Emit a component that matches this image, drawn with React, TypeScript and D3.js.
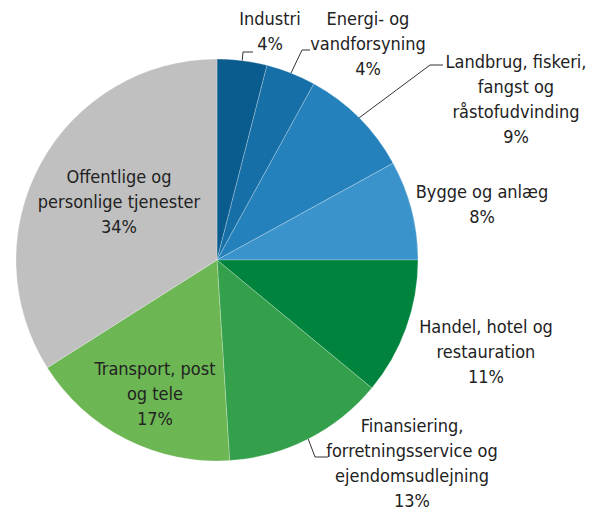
import React from 'react';
import {arc, pie} from 'd3';

const width = 592;
const height = 510;

// sektorer, med uret fra kl. 12
const sectors = [
  'Industri',
  'Energi- og vandforsyning',
  'Landbrug, fiskeri, fangst og råstofudvinding',
  'Bygge og anlæg',
  'Handel, hotel og restauration',
  'Finansiering, forretningsservice og ejendomsudlejning',
  'Transport, post og tele',
  'Offentlige og personlige tjenester',
];
const shares = [4, 4, 9, 8, 11, 13, 17, 34];
const labelLines = [
  ['Industri'],
  ['Energi- og', 'vandforsyning'],
  ['Landbrug, fiskeri,', 'fangst og', 'råstofudvinding'],
  ['Bygge og anlæg'],
  ['Handel, hotel og', 'restauration'],
  ['Finansiering,', 'forretningsservice og', 'ejendomsudlejning'],
  ['Transport, post', 'og tele'],
  ['Offentlige og', 'personlige tjenester'],
];
const colors = ['#0b5c8e', '#1670a7', '#2581bb', '#3a93cb', '#00843d', '#35a04b', '#6cb653', '#c0c0c0'];

// tekstplacering (x = midte, y = første grundlinje)
const labelPos = [
  [270, 25], [368, 25], [516, 68], [482, 198],
  [486, 333], [412, 432], [155, 375], [119, 183],
];
// knæk for ledelinjer (kun for de sektorer der har en)
const leaders: Record<number, number[][]> = {
  0: [[243, 52], [253, 52]],
  1: [[302, 50], [310, 50]],
  2: [[430, 65], [443, 65]],
  5: [[315, 457], [328, 457]],
};

const cx = 217;
const cy = 260;
const r = 201;
const lineH = 25;

export default function App() {
  const arcs = pie<number>().sort(null).value(d => d)(shares);
  const pieArc = arc<any>().innerRadius(0).outerRadius(r);
  const edge = arc<any>().innerRadius(r).outerRadius(r);

  return (
    <svg width={width} height={height} style={{position: 'absolute', left: 0, top: 0, background: '#fff'}}
         fontFamily="'Liberation Sans Narrow', 'DejaVu Sans Condensed', 'Liberation Sans', sans-serif"
         fontSize={18}>
      <g transform={`translate(${cx},${cy})`}>
        {arcs.map((a, i) =>
          <path key={sectors[i]} d={pieArc(a) || ''} fill={colors[i]}
                stroke="#fff" strokeOpacity={0.35} strokeWidth={0.7}/>
        )}
      </g>
      {arcs.map((a, i) => {
        if (!leaders[i]) return null;
        const [sx, sy] = edge.centroid(a);
        const pts = [[sx + cx, sy + cy], ...leaders[i]];
        return <polyline key={'l' + i} points={pts.map(p => p.join(',')).join(' ')}
                         fill="none" stroke="#333" strokeWidth={1}/>;
      })}
      {labelLines.map((lines, i) => {
        const [x, y] = labelPos[i];
        return (
          <text key={'t' + i} x={x} y={y} textAnchor="middle" fill="#222">
            {[...lines, shares[i] + '%'].map((s, j) =>
              <tspan key={j} x={x} y={y + j * lineH}>{s}</tspan>
            )}
          </text>
        );
      })}
    </svg>
  );
}
